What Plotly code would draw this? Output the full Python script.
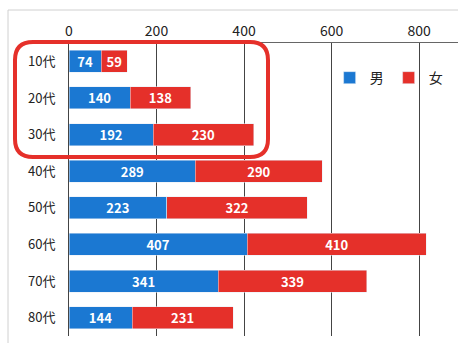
import plotly.graph_objects as go

categories = ["10代", "20代", "30代", "40代", "50代", "60代", "70代", "80代"]
male = [74, 140, 192, 289, 223, 407, 341, 144]
female = [59, 138, 230, 290, 322, 410, 339, 231]
x_ticks = [0, 200, 400, 600, 800]

BLUE = "#1b78d2"
RED = "#e5302a"
FONT = "Noto Sans CJK JP"

W, H = 458, 343
L, R, T, B = 69, 0, 43, 7
pw, ph = W - L - R, H - T - B

def px2paper(x, y):
    return (x - L) / pw, 1 - (y - T) / ph

def rounded_rect(x0, y0, x1, y1, r):
    def P(x, y):
        a, b = px2paper(x, y)
        return f"{a:.5f},{b:.5f}"
    s = f"M {P(x0 + r, y0)} L {P(x1 - r, y0)} Q {P(x1, y0)} {P(x1, y0 + r)} "
    s += f"L {P(x1, y1 - r)} Q {P(x1, y1)} {P(x1 - r, y1)} "
    s += f"L {P(x0 + r, y1)} Q {P(x0, y1)} {P(x0, y1 - r)} "
    s += f"L {P(x0, y0 + r)} Q {P(x0, y0)} {P(x0 + r, y0)} Z"
    return s

fig = go.Figure()
for vals, name, col in [(male, "男", BLUE), (female, "女", RED)]:
    fig.add_trace(go.Bar(
        y=categories, x=vals, name=name, orientation="h", marker_color=col,
        text=vals, textposition="inside", insidetextanchor="middle", textangle=0,
        textfont=dict(color="white", size=13, family=FONT, weight="bold"),
        constraintext="none",
    ))

fig.update_layout(
    width=W, height=H,
    margin=dict(l=L, r=R, t=T, b=B, autoexpand=False),
    barmode="stack", bargap=0.4,
    plot_bgcolor="white", paper_bgcolor="white",
    font=dict(family=FONT, size=13, color="#222"),
    legend=dict(orientation="h", x=0.67, y=0.935, xanchor="left", yanchor="top",
                bgcolor="rgba(0,0,0,0)", font=dict(size=14), itemwidth=30,
                traceorder="normal"),
    xaxis=dict(side="top", range=[0, 889], tickvals=x_ticks,
               showgrid=True, gridcolor="#444", gridwidth=1,
               showline=True, linecolor="#666", linewidth=1,
               zeroline=False, ticks="", tickfont=dict(size=14)),
    yaxis=dict(autorange="reversed", showgrid=False, showline=True,
               linecolor="#444", linewidth=1, ticks="", ticklabelstandoff=10,
               tickfont=dict(size=13)),
    shapes=[
        dict(type="path", xref="paper", yref="paper",
             path=rounded_rect(15, 42, 268, 157, 18),
             line=dict(color=RED, width=4)),
        dict(type="line", xref="paper", yref="paper",
             x0=px2paper(8, 0)[0], x1=px2paper(8, 0)[0],
             y0=px2paper(0, 10)[1], y1=px2paper(0, 343)[1],
             line=dict(color="#d0d0d0", width=1)),
        dict(type="line", xref="paper", yref="paper",
             x0=px2paper(8, 0)[0], x1=1,
             y0=px2paper(0, 10)[1], y1=px2paper(0, 10)[1],
             line=dict(color="#d0d0d0", width=1)),
    ],
)

fig.write_html("out.html")
